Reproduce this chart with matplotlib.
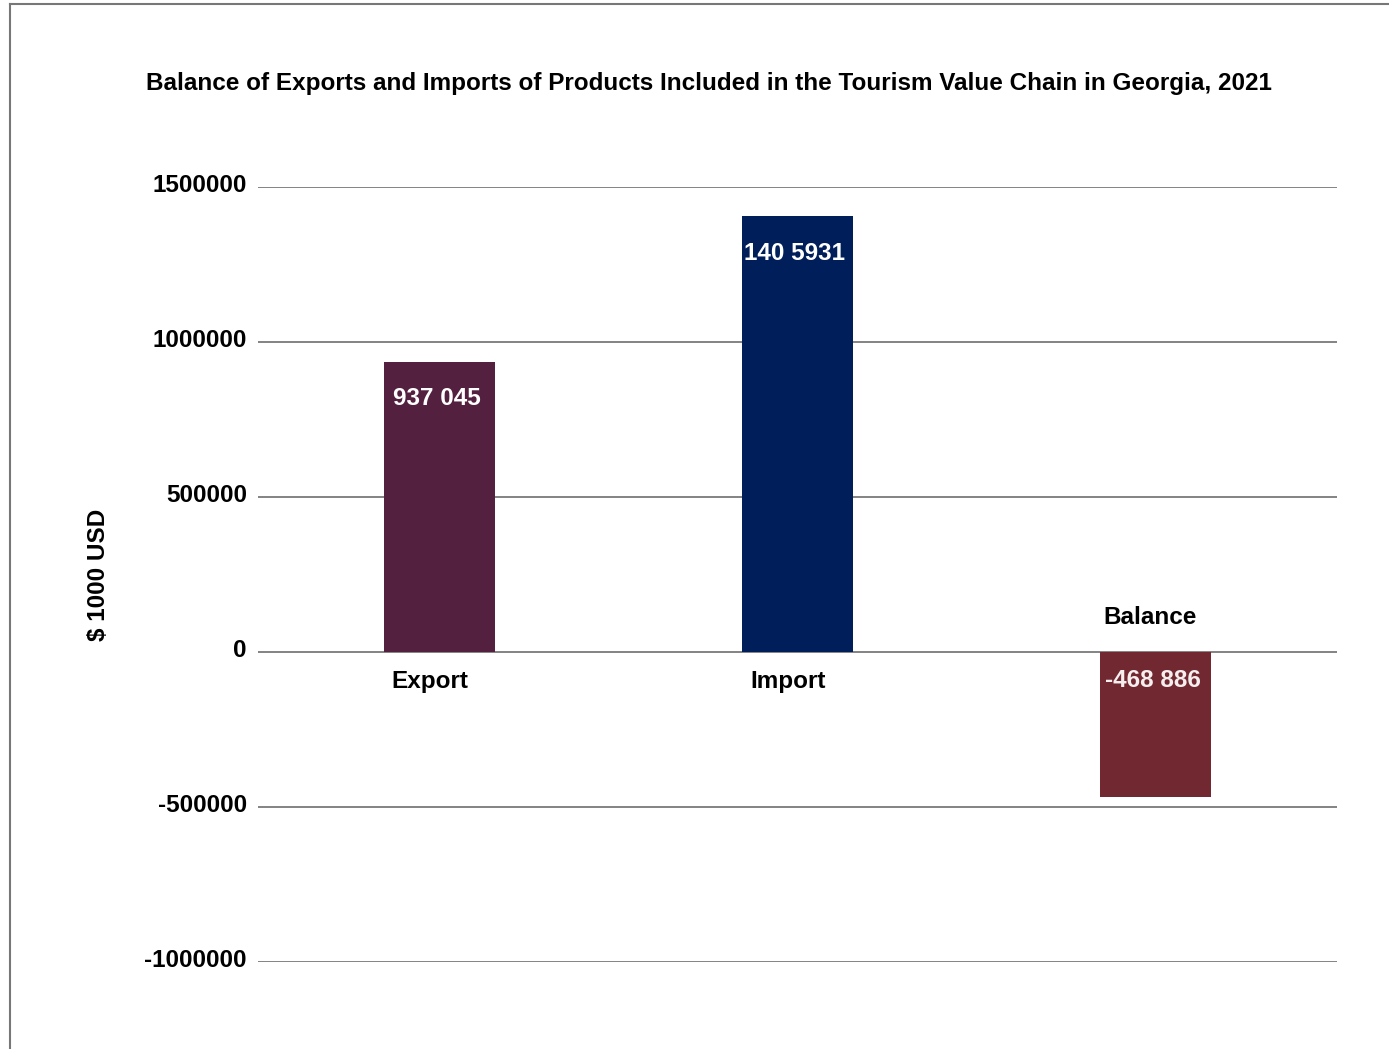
import matplotlib.pyplot as plt
from matplotlib.lines import Line2D
from matplotlib.transforms import ScaledTranslation

plt.rcParams['font.family'] = ['Liberation Sans', 'DejaVu Sans']

# data
categorias = ["Export", "Import", "Balance"]
valores = [937045, 1405931, -468886]
rotulos = ["937 045", "140 5931", "-468 886"]
cores = ["#53213F", "#001E5A", "#722831"]
yticks = [-1000000, -500000, 0, 500000, 1000000, 1500000]

titulo = "Balance of Exports and Imports of Products Included in the Tourism Value Chain in Georgia, 2021"
fs = 17.5

fig = plt.figure(figsize=(13.89, 10.49), dpi=100)
ax = fig.add_axes([0.1857, 0.0829, 0.7769, 0.7388])

x = range(len(categorias))
ax.bar(x, valores, width=0.31, color=cores, zorder=3)

ax.set_xlim(-0.507, 2.507)
ax.set_ylim(-1000000, 1500000)
ax.set_yticks(yticks)
ax.set_yticklabels([str(v) for v in yticks], fontsize=fs, fontweight='bold')
ax.tick_params(axis='y', length=0, pad=8)
desloc = ScaledTranslation(0, 4 / 100, fig.dpi_scale_trans)
for t in ax.get_yticklabels():
    t.set_transform(t.get_transform() + desloc)
ax.set_xticks([])
ax.grid(axis='y', color='#7a7a7a', linewidth=1.3, zorder=0)
for s in ax.spines.values():
    s.set_visible(False)

ax.set_ylabel("$ 1000 USD", fontsize=fs, fontweight='bold', labelpad=25)

# nomes das categorias e rotulos dos valores
for i, (nome, v, r) in enumerate(zip(categorias, valores, rotulos)):
    if v >= 0:
        ax.annotate(nome, (i, 0), xytext=(-7, -21.5), textcoords='offset points',
                    ha='center', va='center', fontsize=fs, fontweight='bold')
        ax.annotate(r, (i, v), xytext=(-2, -26.5), textcoords='offset points',
                    ha='center', va='center', fontsize=fs, fontweight='bold', color='white', zorder=4)
    else:
        ax.annotate(nome, (i, 0), xytext=(-4, 25), textcoords='offset points',
                    ha='center', va='center', fontsize=fs, fontweight='bold')
        ax.annotate(r, (i, 0), xytext=(-2, -20.5), textcoords='offset points',
                    ha='center', va='center', fontsize=fs, fontweight='bold', color='#f4eeee', zorder=4)

fig.text(0.5105, 0.9200, titulo, ha='center', va='center', fontsize=fs, fontweight='bold')

# moldura (esquerda e topo)
fig.add_artist(Line2D([0.0075, 0.0075], [0, 0.9965], color='#777777', linewidth=1.5))
fig.add_artist(Line2D([0.0075, 1.0], [0.9965, 0.9965], color='#777777', linewidth=1.5))

fig.savefig("out.png", dpi=100, facecolor='white')
